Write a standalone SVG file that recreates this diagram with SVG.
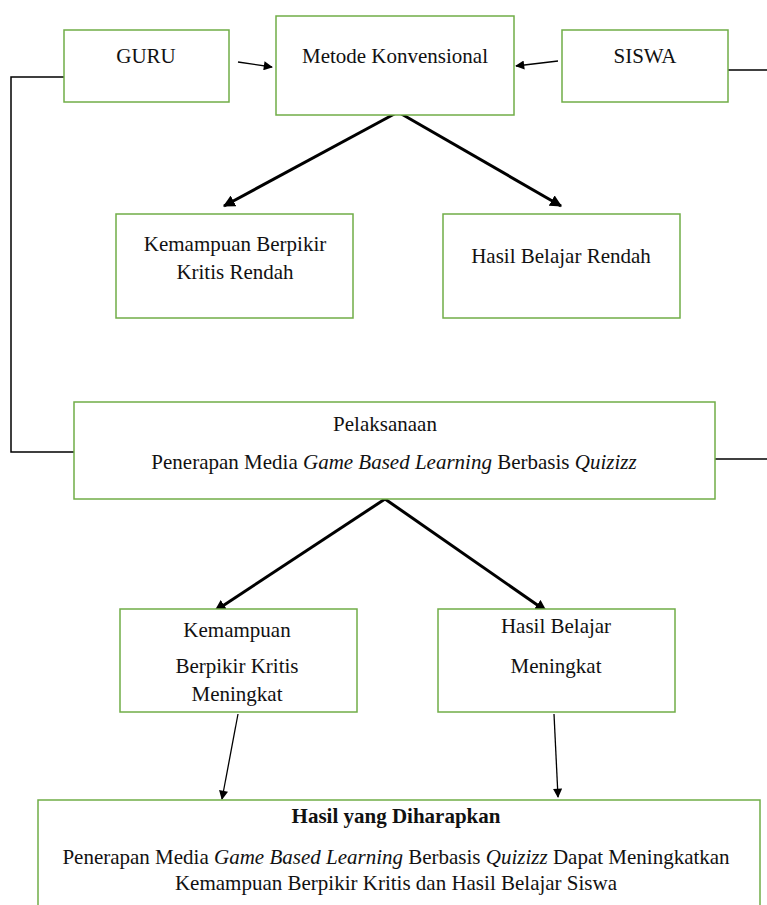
<svg xmlns="http://www.w3.org/2000/svg" width="767" height="905" viewBox="0 0 767 905">
<style>
.box{fill:#fff;stroke:#70AD47;stroke-width:1.5}
.t{font-family:"Liberation Serif","Times New Roman",serif;font-size:21px;fill:#111;text-anchor:middle}
.i{font-style:italic}
.b{font-weight:bold}
.thick{stroke:#000;stroke-width:3;fill:none}
.thin{stroke:#000;stroke-width:1.3;fill:none}
.line{stroke:#000;stroke-width:1.5;fill:none}
</style>
<defs>
<marker id="ah" viewBox="0 0 10 10" refX="9" refY="5" markerWidth="4" markerHeight="4" orient="auto" markerUnits="strokeWidth"><path d="M0,0 L10,5 L0,10 z" fill="#000"/></marker>
<marker id="ah2" viewBox="0 0 10 10" refX="9" refY="5" markerWidth="8" markerHeight="7" orient="auto" markerUnits="strokeWidth"><path d="M0,0 L10,5 L0,10 z" fill="#000"/></marker>
</defs>
<rect width="767" height="905" fill="#fff"/>
<g id="connectors">
<polyline class="line" points="64,77 11,77 11,452 74,452"/>
<line class="line" x1="728" y1="70" x2="767" y2="70"/>
<line class="line" x1="715" y1="459" x2="767" y2="459"/>
<line class="thin" x1="238" y1="62" x2="272" y2="67" marker-end="url(#ah2)"/>
<line class="thin" x1="558" y1="61" x2="516" y2="66" marker-end="url(#ah2)"/>
<line class="thick" x1="398" y1="112" x2="224" y2="206" marker-end="url(#ah)"/>
<line class="thick" x1="398" y1="112" x2="561" y2="206" marker-end="url(#ah)"/>
<line class="thick" x1="385" y1="499" x2="215" y2="611" marker-end="url(#ah)"/>
<line class="thick" x1="385" y1="499" x2="546" y2="611" marker-end="url(#ah)"/>
<line class="thin" x1="238" y1="714" x2="222" y2="799" marker-end="url(#ah2)"/>
<line class="thin" x1="554" y1="714" x2="558" y2="797" marker-end="url(#ah2)"/>
</g>
<g id="guru"><rect class="box" x="64" y="30" width="165" height="72"/><text class="t" x="146" y="63">GURU</text></g>
<g id="metode"><rect class="box" x="276" y="16" width="238" height="99"/><text class="t" x="395" y="63">Metode Konvensional</text></g>
<g id="siswa"><rect class="box" x="562" y="30" width="166" height="72"/><text class="t" x="645" y="63">SISWA</text></g>
<g id="kritis-rendah"><rect class="box" x="116" y="214" width="237" height="104"/><text class="t" x="235" y="251">Kemampuan Berpikir</text><text class="t" x="235" y="279">Kritis Rendah</text></g>
<g id="hasil-rendah"><rect class="box" x="443" y="214" width="237" height="104"/><text class="t" x="561" y="263">Hasil Belajar Rendah</text></g>
<g id="pelaksanaan"><rect class="box" x="74" y="402" width="641" height="97"/><text class="t" x="385" y="431">Pelaksanaan</text><text class="t" x="394" y="469">Penerapan Media <tspan class="i">Game Based Learning</tspan> Berbasis <tspan class="i">Quizizz</tspan></text></g>
<g id="kritis-meningkat"><rect class="box" x="120" y="609" width="237" height="103"/><text class="t" x="237" y="637">Kemampuan</text><text class="t" x="237" y="673">Berpikir Kritis</text><text class="t" x="237" y="701">Meningkat</text></g>
<g id="hasil-meningkat"><rect class="box" x="438" y="609" width="237" height="103"/><text class="t" x="556" y="633">Hasil Belajar</text><text class="t" x="556" y="673">Meningkat</text></g>
<g id="hasil-diharapkan"><rect class="box" x="38" y="800" width="722" height="115"/><text class="t b" x="396" y="823">Hasil yang Diharapkan</text><text class="t" x="396" y="864">Penerapan Media <tspan class="i">Game Based Learning</tspan> Berbasis <tspan class="i">Quizizz</tspan> Dapat Meningkatkan</text><text class="t" x="396" y="890">Kemampuan Berpikir Kritis dan Hasil Belajar Siswa</text></g>
</svg>
